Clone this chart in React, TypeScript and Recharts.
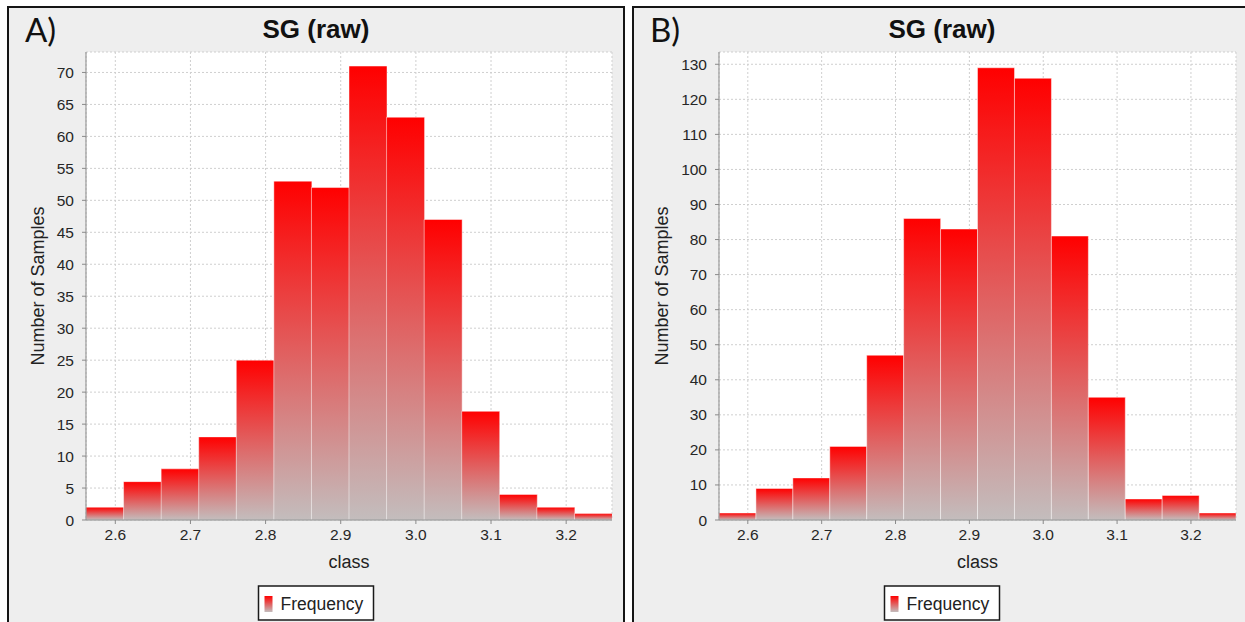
import React from 'react';
import { BarChart, Bar, XAxis, YAxis, CartesianGrid } from 'recharts';

// Histogram classes (bin midpoints, bin width 0.05)
const classMidpoints = [2.586, 2.636, 2.686, 2.736, 2.786, 2.836, 2.886, 2.936, 2.986, 3.036, 3.086, 3.136, 3.186, 3.236];
// Sample counts per class
const frequencyA = [2, 6, 8, 13, 25, 53, 52, 71, 63, 47, 17, 4, 2, 1];
const frequencyB = [2, 9, 12, 21, 47, 86, 83, 129, 126, 81, 35, 6, 7, 2];
// Axis ticks
const classTicks = [2.6, 2.7, 2.8, 2.9, 3.0, 3.1, 3.2];
const sampleTicksA = [0, 5, 10, 15, 20, 25, 30, 35, 40, 45, 50, 55, 60, 65, 70];
const sampleTicksB = [0, 10, 20, 30, 40, 50, 60, 70, 80, 90, 100, 110, 120, 130];
const classRange: [number, number] = [2.561, 3.261];

const FONT = '"Liberation Sans", Arial, sans-serif';
const PAGE_W = 1245;
const PAGE_H = 622;

type PanelDef = {
  id: string;
  tag: string;
  title: string;
  counts: number[];
  yTicks: number[];
  yMax: number;
  panelLeft: number;
  panelWidth: number;
  chartLeft: number;
  chartWidth: number;
  marginRight: number;
  yAxisWidth: number;
  yLabelX: number;
};

const panels: PanelDef[] = [
  {
    id: 'a', tag: 'A)', title: 'SG (raw)', counts: frequencyA, yTicks: sampleTicksA, yMax: 73.2,
    panelLeft: 7, panelWidth: 618, chartLeft: 0, chartWidth: 625, marginRight: 13, yAxisWidth: 66, yLabelX: 38,
  },
  {
    id: 'b', tag: 'B)', title: 'SG (raw)', counts: frequencyB, yTicks: sampleTicksB, yMax: 133.5,
    panelLeft: 632, panelWidth: 620, chartLeft: 632, chartWidth: 613, marginRight: 9, yAxisWidth: 67, yLabelX: 662,
  },
];

const tickStyle = { fontFamily: FONT, fontSize: 15.5, fill: '#262626' };

function HistogramPanel({ p }: { p: PanelDef }) {
  const data = classMidpoints.map((c, i) => ({ cls: c, count: p.counts[i] }));
  const gradId = `barFill-${p.id}`;
  return (
    <div style={{ position: 'absolute', left: p.chartLeft, top: 0, width: p.chartWidth, height: PAGE_H }}>
      <BarChart
        width={p.chartWidth}
        height={PAGE_H}
        data={data}
        margin={{ top: 52, right: p.marginRight, bottom: 72, left: 20 }}
        barCategoryGap={0}
        barGap={0}
      >
        <defs>
          <linearGradient id={gradId} x1="0" y1="0" x2="0" y2="1">
            <stop offset="0%" stopColor="#ff0000" />
            <stop offset="100%" stopColor="#c3bdbd" />
          </linearGradient>
        </defs>
        <CartesianGrid strokeDasharray="2 2" stroke="#cfcfcf" fill="#ffffff" />
        <XAxis
          dataKey="cls"
          type="number"
          domain={classRange}
          ticks={classTicks}
          allowDataOverflow
          tickFormatter={(v: number) => v.toFixed(1)}
          tick={tickStyle}
          tickSize={4}
          tickMargin={5}
          height={30}
          stroke="#8a8a8a"
          label={(lp: any) => {
            const vb = lp.viewBox || {};
            return (
              <text
                x={vb.x + vb.width / 2}
                y={vb.y + 42}
                textAnchor="middle"
                dominantBaseline="central"
                style={{ fontFamily: FONT, fontSize: 18, fill: '#222' }}
              >
                class
              </text>
            );
          }}
        />
        <XAxis xAxisId="top" orientation="top" type="number" domain={classRange} height={0} tick={false} tickLine={false} axisLine={{ stroke: '#b4b4b4' }} />
        <YAxis
          type="number"
          domain={[0, p.yMax]}
          ticks={p.yTicks}
          allowDataOverflow
          width={p.yAxisWidth}
          tick={tickStyle}
          tickSize={4}
          tickMargin={8}
          stroke="#8a8a8a"
          label={(lp: any) => {
            const vb = lp.viewBox || {};
            const cx = p.yLabelX - p.chartLeft;
            const cy = vb.y + vb.height / 2;
            return (
              <text
                x={cx}
                y={cy}
                textAnchor="middle"
                dominantBaseline="central"
                transform={`rotate(-90 ${cx} ${cy})`}
                style={{ fontFamily: FONT, fontSize: 18, fill: '#222' }}
              >
                Number of Samples
              </text>
            );
          }}
        />
        <YAxis yAxisId="right" orientation="right" type="number" domain={[0, p.yMax]} width={0} tick={false} tickLine={false} axisLine={{ stroke: '#b4b4b4' }} />
        <Bar
          dataKey="count"
          fill={`url(#${gradId})`}
          stroke="rgba(255,255,255,0.45)"
          strokeWidth={1}
          isAnimationActive={false}
        />
      </BarChart>
    </div>
  );
}

function PanelFrame({ p }: { p: PanelDef }) {
  return (
    <div
      style={{
        position: 'absolute',
        left: p.panelLeft,
        top: 6,
        width: p.panelWidth,
        height: PAGE_H + 10,
        boxSizing: 'border-box',
        border: '2px solid #151515',
        background: '#eeeeee',
      }}
    />
  );
}

function PanelText({ p }: { p: PanelDef }) {
  const cx = p.panelLeft + p.panelWidth / 2;
  const legW = 115;
  const legX = cx - legW / 2;
  return (
    <g>
      <text x={p.panelLeft + 18} y={42} style={{ fontFamily: 'Lato, "Open Sans", sans-serif', fontSize: 33, fill: '#111' }}>
        {p.tag}
      </text>
      <text
        x={cx}
        y={29}
        textAnchor="middle"
        dominantBaseline="central"
        style={{ fontFamily: FONT, fontSize: 26, fontWeight: 'bold', fill: '#111' }}
      >
        {p.title}
      </text>
      <rect x={legX} y={586} width={legW} height={34} fill="#ffffff" stroke="#1a1a1a" strokeWidth={1.5} />
      <rect x={legX + 6} y={596} width={8} height={16} fill={`url(#legendFill-${p.id})`} />
      <text x={legX + 22} y={604} dominantBaseline="central" style={{ fontFamily: FONT, fontSize: 17.5, fill: '#222' }}>
        Frequency
      </text>
    </g>
  );
}

export default function App() {
  return (
    <div style={{ position: 'absolute', left: 0, top: 0, width: PAGE_W, height: PAGE_H, overflow: 'hidden', background: '#ffffff' }}>
      {panels.map((p) => (
        <PanelFrame key={`f-${p.id}`} p={p} />
      ))}
      {panels.map((p) => (
        <HistogramPanel key={`c-${p.id}`} p={p} />
      ))}
      <svg width={PAGE_W} height={PAGE_H} style={{ position: 'absolute', left: 0, top: 0, pointerEvents: 'none' }}>
        <defs>
          {panels.map((p) => (
            <linearGradient key={p.id} id={`legendFill-${p.id}`} x1="0" y1="0" x2="0" y2="1">
              <stop offset="0%" stopColor="#ff0000" />
              <stop offset="100%" stopColor="#c3bdbd" />
            </linearGradient>
          ))}
        </defs>
        {panels.map((p) => (
          <PanelText key={`t-${p.id}`} p={p} />
        ))}
      </svg>
    </div>
  );
}
